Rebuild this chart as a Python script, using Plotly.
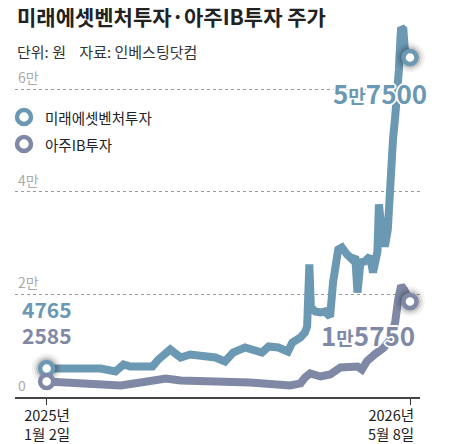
import plotly.graph_objects as go

# 미래에셋벤처투자 종가 (원)
mirae_dates = [
    "2025-01-02", "2025-01-14", "2025-01-28", "2025-02-10", "2025-02-24", "2025-03-16",
    "2025-04-05", "2025-04-16", "2025-04-25", "2025-05-16", "2025-05-25", "2025-06-02",
    "2025-06-12", "2025-06-18", "2025-06-25", "2025-07-02", "2025-07-15", "2025-07-29",
    "2025-08-18", "2025-08-31", "2025-09-11", "2025-09-27", "2025-10-11", "2025-10-20",
    "2025-10-29", "2025-11-11", "2025-11-24", "2025-11-30", "2025-12-11", "2025-12-17",
    "2025-12-20", "2025-12-23", "2025-12-25", "2025-12-31", "2026-01-07", "2026-01-13",
    "2026-01-20", "2026-01-24", "2026-01-31", "2026-02-05", "2026-02-12", "2026-02-19",
    "2026-02-23", "2026-02-26", "2026-03-02", "2026-03-08", "2026-03-15", "2026-03-19",
    "2026-03-25", "2026-03-27", "2026-03-31", "2026-04-04", "2026-04-08", "2026-04-12",
    "2026-04-15", "2026-04-18", "2026-04-21", "2026-04-23", "2026-04-25", "2026-04-26",
    "2026-04-29", "2026-05-01", "2026-05-08",
]
mirae_close = [
    5560, 5560, 5755, 5950, 5755, 5560, 4975, 6340, 5950, 5755, 5950, 7315,
    8680, 9270, 8490, 7705, 8290, 7900, 7705, 6925, 8680, 9660, 9270, 8680,
    9850, 9660, 8875, 10630, 11610, 12580, 13750, 25850, 17460, 16680, 16480, 16680,
    15700, 22340, 28780, 29170, 27800, 26830, 27410, 20390, 26240, 26440, 27410, 24290,
    28390, 37560, 32190, 29360, 32680, 45360, 50240, 54720, 59020, 63900, 69750, 72090,
    71700, 67800, 66240,
]

# 아주IB투자 종가 (원)
ajou_dates = [
    "2025-01-02", "2025-01-21", "2025-03-16", "2025-04-12", "2025-05-09", "2025-06-12",
    "2025-07-02", "2025-07-29", "2025-09-07", "2025-10-04", "2025-11-27", "2025-12-11",
    "2025-12-17", "2025-12-24", "2026-01-07", "2026-01-20", "2026-02-03", "2026-02-16",
    "2026-02-26", "2026-03-04", "2026-03-11", "2026-03-22", "2026-04-02", "2026-04-11",
    "2026-04-18", "2026-04-22", "2026-04-26", "2026-04-30", "2026-05-08",
]
ajou_close = [
    3025, 2830, 2440, 2245, 2830, 3610, 3220, 3220, 2830, 2830, 2245, 2635,
    3805, 4585, 4000, 4390, 5755, 5755, 5950, 5365, 7020, 8390, 9560, 11120,
    14630, 19020, 21750, 20970, 18630,
]

y_ticks = [0, 20000, 40000, 60000]
y_tick_text = ["0", "2만", "4만", "6만"]

names = ["미래에셋벤처투자", "아주IB투자"]
start_labels = ["4765", "2585"]
end_labels = ["5만7500", "1만5750"]
x_labels = ["2025년<br>1월 2일", "2026년<br>5월 8일"]

MIRAE = "#6b98b3"
AJOU = "#7f89a6"
FONT = "Noto Sans CJK KR"

# the page body adds an 8px margin, so the figure is drawn 8px smaller
OFF = 8
W, H = 453 - OFF, 444 - OFF
L, R, T, B = 15 - OFF, 33, 20 - OFF, 47


def px(x):
    return (x - OFF - L) / (W - L - R)


def py(y):
    return (H - B - (y - OFF)) / (H - T - B)


halo = ", ".join(
    f"{dx}px {dy}px 0 #fff"
    for dx, dy in [(2, 0), (-2, 0), (0, 2), (0, -2), (1, 1), (-1, -1), (1, -1), (-1, 1)]
)

fig = go.Figure()

for dates, vals, color in [(mirae_dates, mirae_close, MIRAE), (ajou_dates, ajou_close, AJOU)]:
    fig.add_trace(
        go.Scatter(
            x=dates,
            y=vals,
            mode="lines",
            line=dict(width=8, color=color),
            hoverinfo="skip",
            showlegend=False,
        )
    )

# soft shadow under the highlighted points
shadow_x = [mirae_dates[0], mirae_dates[-1], ajou_dates[-1]]
shadow_y = [mirae_close[0], mirae_close[-1], ajou_close[-1]]
for size, alpha in [(30, 0.05), (25, 0.08), (21, 0.12)]:
    fig.add_trace(
        go.Scatter(
            x=shadow_x,
            y=shadow_y,
            mode="markers",
            marker=dict(size=size, color=f"rgba(0,0,0,{alpha})", line=dict(width=0)),
            cliponaxis=False,
            hoverinfo="skip",
            showlegend=False,
        )
    )

for dates, vals, color in [(mirae_dates, mirae_close, MIRAE), (ajou_dates, ajou_close, AJOU)]:
    fig.add_trace(
        go.Scatter(
            x=[dates[0], dates[-1]],
            y=[vals[0], vals[-1]],
            mode="markers",
            marker=dict(size=13, color="white", line=dict(width=4.5, color=color)),
            cliponaxis=False,
            hoverinfo="skip",
            showlegend=False,
        )
    )

annotations = [
    dict(x=px(15), y=py(16), text="<b>미래에셋벤처투자·아주IB투자 주가</b>",
         font=dict(size=21, color="#222"), xanchor="left"),
    dict(x=px(15), y=py(52), text="단위: 원\u00a0\u00a0\u00a0\u00a0자료: 인베스팅닷컴",
         font=dict(size=15, color="#333"), xanchor="left"),
    dict(x=px(43), y=py(117), text=names[0], font=dict(size=14.5, color="#222"), xanchor="left"),
    dict(x=px(43), y=py(144), text=names[1], font=dict(size=14.5, color="#222"), xanchor="left"),
]
for a in annotations:
    a.update(xref="paper", yref="paper", yanchor="middle", showarrow=False)
    a["font"]["family"] = FONT

# 시작·끝 날짜
annotations.append(dict(x=mirae_dates[0], y=0, xref="x", yref="paper", text=x_labels[0],
                        xanchor="center", yanchor="top", yshift=-5, showarrow=False,
                        font=dict(family=FONT, size=14.5, color="#222")))
annotations.append(dict(x=mirae_dates[-1], y=0, xref="x", yref="paper", text=x_labels[1],
                        xanchor="right", align="right", yanchor="top", yshift=-5, xshift=6,
                        showarrow=False, font=dict(family=FONT, size=14.5, color="#222")))

# 값 라벨
annotations.append(dict(x=mirae_dates[0], y=mirae_close[0], text=f"<b>{start_labels[0]}</b>",
                        xanchor="center", yshift=60, showarrow=False,
                        font=dict(family=FONT, size=21, color=MIRAE, shadow=halo)))
annotations.append(dict(x=ajou_dates[0], y=ajou_close[0], text=f"<b>{start_labels[1]}</b>",
                        xanchor="center", yshift=46, showarrow=False,
                        font=dict(family=FONT, size=21, color=AJOU, shadow=halo)))


def split_label(s):
    a, b = s.split("만")
    return f"<b>{a}<span style='font-size:19px'>만</span>{b}</b>"


annotations.append(dict(x=mirae_dates[-1], y=mirae_close[-1], text=split_label(end_labels[0]),
                        xanchor="right", xshift=19, yshift=-35, showarrow=False,
                        font=dict(family=FONT, size=26, color=MIRAE, shadow=halo)))
annotations.append(dict(x=ajou_dates[-1], y=ajou_close[-1], text=split_label(end_labels[1]),
                        xanchor="right", xshift=7, yshift=-33, showarrow=False,
                        font=dict(family=FONT, size=26, color=AJOU, shadow=halo)))

# 범례 동그라미
shapes = []
for yy, color in [(117, MIRAE), (144, AJOU)]:
    shapes.append(dict(type="circle", xref="paper", yref="paper",
                       xsizemode="pixel", ysizemode="pixel",
                       xanchor=px(24), yanchor=py(yy), x0=-7, x1=7, y0=-7, y1=7,
                       fillcolor="white", line=dict(color=color, width=4.5)))

fig.update_xaxes(
    type="date",
    range=["2024-11-20 06:00", "2026-05-21 12:00"],
    showgrid=False,
    showline=True,
    linecolor="#444",
    linewidth=1.5,
    ticks="outside",
    ticklen=6,
    tickcolor="#333",
    tickvals=[mirae_dates[0], mirae_dates[-1]],
    showticklabels=False,
    fixedrange=True,
)
fig.update_yaxes(
    range=[0, 73550],
    tickvals=y_ticks,
    ticktext=y_tick_text,
    showgrid=True,
    gridcolor="#999",
    griddash="dot",
    gridwidth=1,
    zeroline=False,
    ticklabelposition="inside",
    ticklabelshift=-11,
    ticklabelstandoff=0,
    tickfont=dict(family=FONT, size=14, color="#aaaaaa"),
    fixedrange=True,
)
fig.update_layout(
    width=W,
    height=H,
    margin=dict(l=L, r=R, t=T, b=B),
    paper_bgcolor="white",
    plot_bgcolor="white",
    showlegend=False,
    annotations=annotations,
    shapes=shapes,
    font=dict(family=FONT),
)

fig.write_html("out.html", config={"displayModeBar": False})
